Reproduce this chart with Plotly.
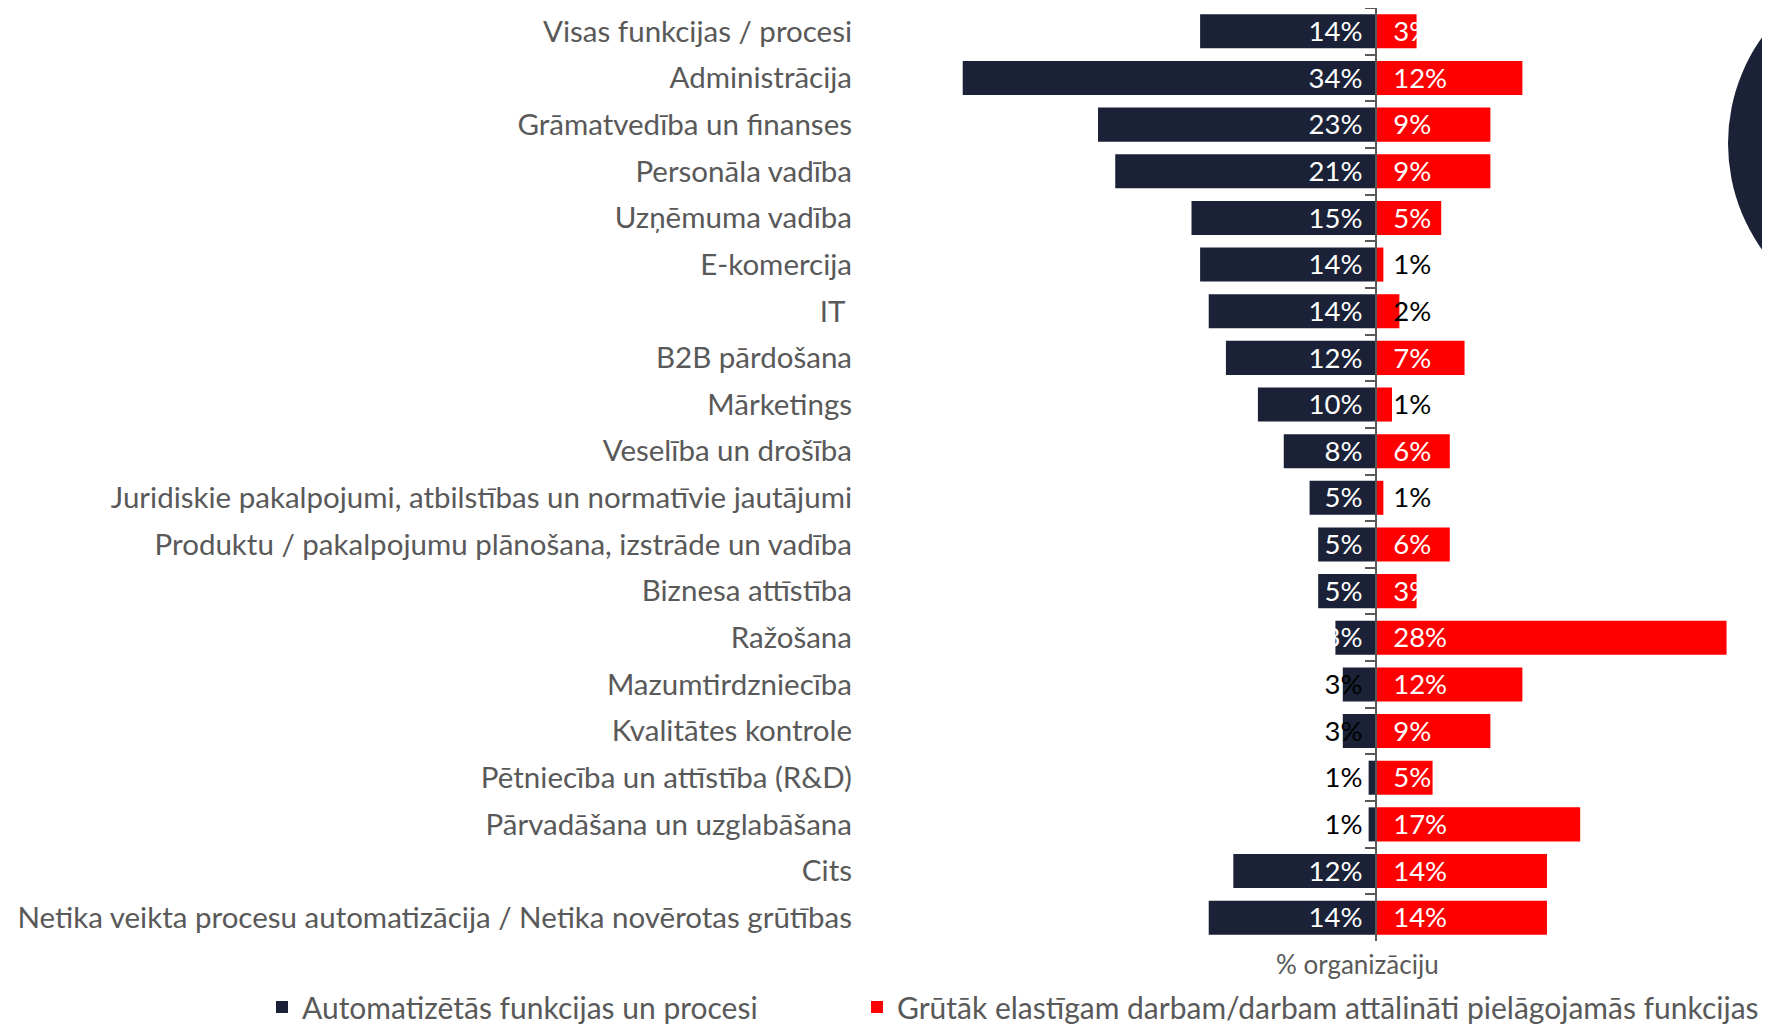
import plotly.graph_objects as go

categories = [
    "Visas funkcijas / procesi",
    "Administrācija",
    "Grāmatvedība un finanses",
    "Personāla vadība",
    "Uzņēmuma vadība",
    "E-komercija",
    "IT ",
    "B2B pārdošana",
    "Mārketings",
    "Veselība un drošība",
    "Juridiskie pakalpojumi, atbilstības un normatīvie jautājumi",
    "Produktu / pakalpojumu plānošana, izstrāde un vadība",
    "Biznesa attīstība",
    "Ražošana",
    "Mazumtirdzniecība",
    "Kvalitātes kontrole",
    "Pētniecība un attīstība (R&D)",
    "Pārvadāšana un uzglabāšana",
    "Cits",
    "Netika veikta procesu automatizācija / Netika novērotas grūtības",
]
automated = [14.3, 33.6, 22.6, 21.2, 15.0, 14.3, 13.6, 12.2, 9.6, 7.5, 5.4, 4.7, 4.7, 3.3, 2.7, 2.7, 0.6, 0.6, 11.6, 13.6]
harder = [3.3, 11.9, 9.3, 9.3, 5.3, 0.6, 1.9, 7.2, 1.3, 6.0, 0.6, 6.0, 3.3, 28.5, 11.9, 9.3, 4.6, 16.6, 13.9, 13.9]
series_names = ["Automatizētās funkcijas un procesi",
                "Grūtāk elastīgam darbam/darbam attālināti pielāgojamās funkcijas"]
axis_title = "% organizāciju"

NAVY = "#1B2136"
RED = "#FF0000"
GRAY = "#595959"
AXIS = "#595959"
FONT = "Lato, Roboto, 'Open Sans', sans-serif"

# page body has an 8px margin, so the figure is sized to the visible area
W, H = 1762, 1016
zero_px = 1368
px_per_unit = 12.3
plot_left_px = 857
d0 = plot_left_px / W
xmin = -(zero_px - plot_left_px) / px_per_unit
xmax = (W - zero_px) / px_per_unit
zero_pos = d0 + (0 - xmin) / (xmax - xmin) * (1 - d0)
ydom = [1 - 933 / H, 1.0]
n = len(categories)
yrange = [n - 0.5, -0.5]
label_shift = 0.06  # nudges value labels slightly down to sit centred in the bars
yrange_labels = [n - 0.5 - label_shift, -0.5 - label_shift]

fig = go.Figure()
fig.add_trace(go.Bar(y=categories, x=[-v for v in automated], orientation="h",
                     name=series_names[0], marker=dict(color=NAVY, line=dict(width=0)),
                     width=0.73, hoverinfo="skip", legend="legend"))
fig.add_trace(go.Bar(y=categories, x=harder, orientation="h",
                     name=series_names[1], marker=dict(color=RED, line=dict(width=0)),
                     width=0.73, hoverinfo="skip", legend="legend2"))

off_l, off_r = 1.1, 1.4
fig.add_trace(go.Scatter(
    y=categories, x=[-off_l] * len(automated), mode="text", yaxis="y3",
    text=[f"{round(v)}%" for v in automated], textposition="middle left",
    textfont=dict(family=FONT, size=27.5, color=["black" if v < 3 else "white" for v in automated]),
    showlegend=False, cliponaxis=False, hoverinfo="skip"))
fig.add_trace(go.Scatter(
    y=categories, x=[off_r] * len(harder), mode="text", yaxis="y3",
    text=[f"{round(v)}%" for v in harder], textposition="middle right",
    textfont=dict(family=FONT, size=27.5, color=["black" if v < 3 else "white" for v in harder]),
    showlegend=False, cliponaxis=False, hoverinfo="skip"))
# invisible trace so the centre axis (y2) is drawn with its boundary ticks
fig.add_trace(go.Scatter(y=categories, x=[0] * n, mode="none", yaxis="y2",
                         showlegend=False, hoverinfo="skip"))

legend_common = dict(orientation="h", xanchor="left", y=-9 / H, yanchor="bottom",
                     font=dict(size=30, color=GRAY, family=FONT), bgcolor="rgba(0,0,0,0)")

fig.update_layout(
    width=W, height=H,
    margin=dict(l=0, r=0, t=0, b=0, autoexpand=False),
    paper_bgcolor="white", plot_bgcolor="white",
    barmode="relative",
    font=dict(family=FONT, color=GRAY),
    xaxis=dict(domain=[d0, 1], range=[xmin, xmax], showgrid=False, zeroline=False,
               showticklabels=False, ticks="", showline=False),
    yaxis=dict(domain=ydom, type="category", categoryorder="array", categoryarray=categories,
               range=yrange, showgrid=False, zeroline=False, ticks="",
               showline=False, tickfont=dict(size=29.5, color=GRAY, family=FONT),
               ticklabelstandoff=12),
    yaxis2=dict(domain=ydom, overlaying="y", anchor="free", position=zero_pos, side="left",
                type="category", categoryorder="array", categoryarray=categories,
                range=yrange,
                showgrid=False, zeroline=False, showticklabels=False,
                ticks="outside", tickson="boundaries", ticklen=10, tickcolor=AXIS,
                tickwidth=1.5, showline=True, linecolor=AXIS, linewidth=1.5),
    yaxis3=dict(domain=ydom, overlaying="y", anchor="x", visible=False,
                type="category", categoryorder="array", categoryarray=categories,
                range=yrange_labels),
    legend=dict(x=254 / W, **legend_common),
    legend2=dict(x=849 / W, **legend_common),
    annotations=[dict(text=axis_title, xref="paper", yref="paper", x=1349 / W, y=(H - 956) / H,
                      xanchor="center", yanchor="middle", showarrow=False,
                      font=dict(size=26, color=GRAY, family=FONT))],
    shapes=[dict(type="circle", xref="paper", yref="paper", x0=1720 / W, x1=2085 / W,
                 y0=1 - 318 / H, y1=1 + 47 / H, fillcolor=NAVY, line=dict(width=0), layer="below")],
)

fig.write_html("out.html")
